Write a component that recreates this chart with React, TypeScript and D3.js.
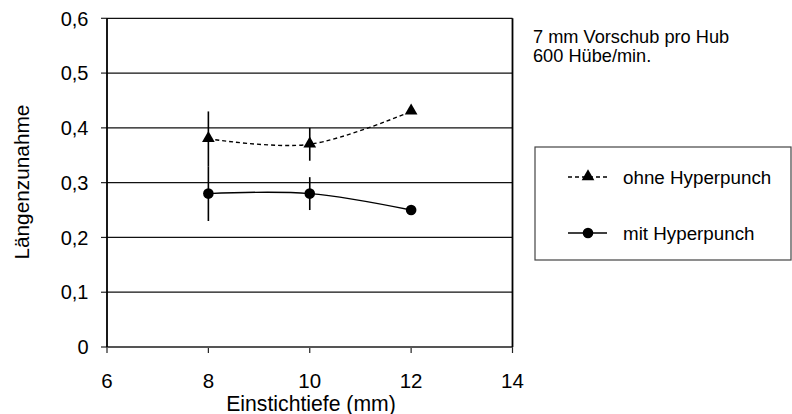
import React from "react";
import * as d3 from "d3";

const depths = [8, 10, 12];
const ohneValues = [0.38, 0.37, 0.43];
const ohneErrors = [0.05, 0.03, 0];
const mitValues = [0.28, 0.28, 0.25];
const mitErrors = [0.05, 0.03, 0];
const xTicks = [6, 8, 10, 12, 14];
const yTicks = [0, 0.1, 0.2, 0.3, 0.4, 0.5, 0.6];
const seriesNames = ["ohne Hyperpunch", "mit Hyperpunch"];
const noteLines = ["7 mm Vorschub pro Hub", "600 Hübe/min."];
const xTitle = "Einstichtiefe (mm)";
const yTitle = "Längenzunahme";

const FONT = "'Liberation Sans', Arial, Helvetica, sans-serif";

export default function App() {
  const W = 792, H = 414;
  const left = 107, right = 512.5, top = 18.3, bottom = 347;
  const x = d3.scaleLinear().domain([6, 14]).range([left, right]);
  const y = d3.scaleLinear().domain([0, 0.6]).range([bottom, top]);
  const fmt = (v: number) => (v === 0 ? "0" : d3.format(".1f")(v).replace(".", ","));

  const line = d3
    .line<number>()
    .x((_, i) => x(depths[i]))
    .y((d) => y(d))
    .curve(d3.curveCardinal.tension(0));

  const tri = d3.symbol().type(d3.symbolTriangle).size(70)();

  return (
    <svg width={W} height={H} style={{ position: "absolute", left: 0, top: 0, background: "#fff" }} fontFamily={FONT}>
      {/* gridlines */}
      {yTicks.filter((t) => t > 0).map((t) => (
        <line key={"g" + t} x1={left} x2={right} y1={y(t)} y2={y(t)} stroke="#111" strokeWidth={1.2} />
      ))}
      {/* y ticks */}
      {yTicks.map((t) => (
        <g key={"yt" + t}>
          <line x1={left - 6} x2={left} y1={y(t)} y2={y(t)} stroke="#222" strokeWidth={1.2} />
          <text x={88.5} y={y(t)} dy="0.36em" textAnchor="end" fontSize={20} fill="#000">
            {fmt(t)}
          </text>
        </g>
      ))}
      {/* x ticks */}
      {xTicks.map((t) => (
        <g key={"xt" + t}>
          <line x1={x(t)} x2={x(t)} y1={bottom} y2={bottom + 6} stroke="#222" strokeWidth={1.2} />
          <text x={x(t)} y={388} textAnchor="middle" fontSize={20.5} fill="#000">
            {t}
          </text>
        </g>
      ))}
      {/* frame */}
      <line x1={left} x2={right} y1={bottom} y2={bottom} stroke="#555" strokeWidth={2} />
      <line x1={left} x2={left} y1={top} y2={bottom} stroke="#000" strokeWidth={1.8} />
      <line x1={right} x2={right} y1={top} y2={bottom} stroke="#000" strokeWidth={1.8} />

      {/* error bars */}
      {depths.map((d, i) =>
        ohneErrors[i] > 0 ? (
          <line key={"eo" + i} x1={x(d)} x2={x(d)} y1={y(ohneValues[i] + ohneErrors[i])} y2={y(ohneValues[i] - ohneErrors[i])} stroke="#000" strokeWidth={1.6} />
        ) : null
      )}
      {depths.map((d, i) =>
        mitErrors[i] > 0 ? (
          <line key={"em" + i} x1={x(d)} x2={x(d)} y1={y(mitValues[i] + mitErrors[i])} y2={y(mitValues[i] - mitErrors[i])} stroke="#000" strokeWidth={1.6} />
        ) : null
      )}

      {/* lines */}
      <path d={line(ohneValues) || ""} fill="none" stroke="#000" strokeWidth={1.4} strokeDasharray="4,3" />
      <path d={line(mitValues) || ""} fill="none" stroke="#000" strokeWidth={1.4} />

      {/* markers */}
      {depths.map((d, i) => (
        <path key={"to" + i} d={tri || ""} transform={`translate(${x(d)},${y(ohneValues[i]) - 0.5})`} fill="#000" />
      ))}
      {depths.map((d, i) => (
        <circle key={"cm" + i} cx={x(d)} cy={y(mitValues[i])} r={5.3} fill="#000" />
      ))}

      {/* axis titles */}
      <text x={311} y={411} textAnchor="middle" fontSize={21.2} fill="#000">
        {xTitle}
      </text>
      <text transform={`translate(29,${y(0.3) - 0.5}) rotate(-90)`} textAnchor="middle" fontSize={20.8} fill="#000">
        {yTitle}
      </text>

      {/* note */}
      {noteLines.map((s, i) => (
        <text key={"n" + i} x={533} y={43 + i * 19} fontSize={18.2} fill="#000">
          {s}
        </text>
      ))}

      {/* legend */}
      <rect x={535} y={147} width={256} height={113} fill="none" stroke="#444" strokeWidth={1.2} />
      <line x1={568} x2={607} y1={177} y2={177} stroke="#000" strokeWidth={1.4} strokeDasharray="4,3" />
      <path d={tri || ""} transform={`translate(588,176.5)`} fill="#000" />
      <text x={623} y={177} dy="0.36em" fontSize={18.8} fill="#000">
        {seriesNames[0]}
      </text>
      <line x1={568} x2={607} y1={233} y2={233} stroke="#000" strokeWidth={1.6} />
      <circle cx={588} cy={233} r={5.3} fill="#000" />
      <text x={623} y={233} dy="0.36em" fontSize={18.8} fill="#000">
        {seriesNames[1]}
      </text>
    </svg>
  );
}
